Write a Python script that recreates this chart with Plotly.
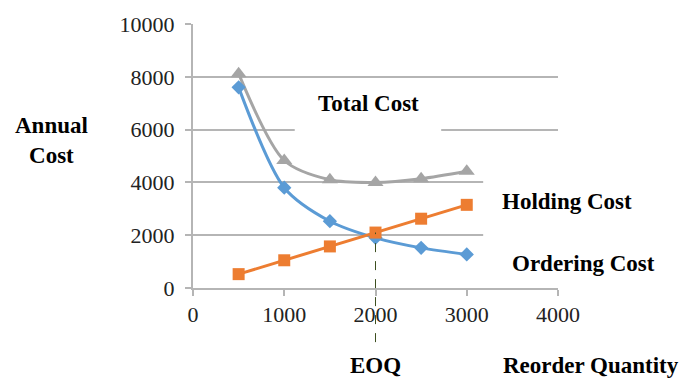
import plotly.graph_objects as go

quantity = [500, 1000, 1500, 2000, 2500, 3000]
ordering_cost = [7600, 3800, 2530, 1900, 1520, 1270]
holding_cost = [525, 1050, 1575, 2100, 2625, 3150]
total_cost = [8120, 4830, 4100, 4000, 4140, 4420]
x_ticks = [0, 1000, 2000, 3000, 4000]
x_tick_labels = ["0", "1000", "2000", "3000", "4000"]
y_ticks = [0, 2000, 4000, 6000, 8000, 10000]
y_tick_labels = ["0", "2000", "4000", "6000", "8000", "10000"]
eoq = 2000

SERIF = "Liberation Serif"

fig = go.Figure()
fig.add_trace(go.Scatter(x=quantity, y=total_cost, mode="lines+markers",
                         line=dict(color="#A5A5A5", width=3, shape="spline", smoothing=0.8),
                         marker=dict(symbol="triangle-up", size=14, color="#A5A5A5"),
                         cliponaxis=False, name="Total Cost"))
fig.add_trace(go.Scatter(x=quantity, y=ordering_cost, mode="lines+markers",
                         line=dict(color="#5B9BD5", width=3, shape="spline", smoothing=0.8),
                         marker=dict(symbol="diamond", size=11, color="#5B9BD5"),
                         cliponaxis=False, name="Ordering Cost"))
fig.add_trace(go.Scatter(x=quantity, y=holding_cost, mode="lines+markers",
                         line=dict(color="#ED7D31", width=3),
                         marker=dict(symbol="square", size=12, color="#ED7D31"),
                         cliponaxis=False, name="Holding Cost"))

# white label boxes that interrupt grid lines
fig.add_shape(type="rect", xref="x", yref="y", x0=1115, x1=2720, y0=5600, y1=6400,
              fillcolor="white", line=dict(width=0), layer="between")
fig.add_shape(type="rect", xref="x", yref="y", x0=3180, x1=4100, y0=1200, y1=5000,
              fillcolor="white", line=dict(width=0), layer="between")

# EOQ dashed line
eoq_idx = quantity.index(eoq)
fig.add_shape(type="line", xref="x", yref="paper", x0=eoq, x1=eoq, y0=-0.205,
              y1=holding_cost[eoq_idx] / 10000, line=dict(color="#3d4f1f", width=1, dash="dash"))

ann_font = dict(family=SERIF, size=23, color="black")
anns = [
    dict(text="<b>Annual<br>Cost</b>", x=51, y=139),
    dict(text="<b>Total Cost</b>", x=368, y=101),
    dict(text="<b>Holding Cost</b>", x=567, y=201),
    dict(text="<b>Ordering Cost</b>", x=583, y=263),
    dict(text="<b>EOQ</b>", x=375, y=366),
    dict(text="<b>Reorder Quantity</b>", x=591, y=366),
]
L, R, T, B = 193, 123, 21, 90
W, H = 681 - L - R, 378 - T - B
for a in anns:
    fig.add_annotation(text=a["text"], x=(a["x"] - L) / W, y=(378 - B - a["y"]) / H,
                       xref="paper", yref="paper", showarrow=False,
                       xanchor="center", yanchor="middle", font=ann_font)

tick_font = dict(family=SERIF, size=22, color="#222222")
fig.update_layout(
    width=681, height=378,
    margin=dict(l=L, r=R, t=T, b=B),
    paper_bgcolor="white", plot_bgcolor="white",
    showlegend=False,
    font=dict(family=SERIF, size=22, color="#222222"),
    xaxis=dict(range=[0, 4000], tickvals=x_ticks, ticktext=x_tick_labels,
               showgrid=False, zeroline=False,
               showline=True, linecolor="#b5b5b5", linewidth=2,
               ticks="outside", ticklen=6, tickcolor="#b5b5b5", tickwidth=2,
               tickfont=tick_font),
    yaxis=dict(range=[0, 10000], tickvals=y_ticks, ticktext=y_tick_labels,
               showgrid=True, gridcolor="#b5b5b5",
               gridwidth=2, zeroline=False, showline=True, linecolor="#b5b5b5", linewidth=2,
               ticks="outside", ticklen=6, tickcolor="#b5b5b5", tickwidth=2,
               ticklabelstandoff=6, tickfont=tick_font),
)

fig.write_html("out.html")
